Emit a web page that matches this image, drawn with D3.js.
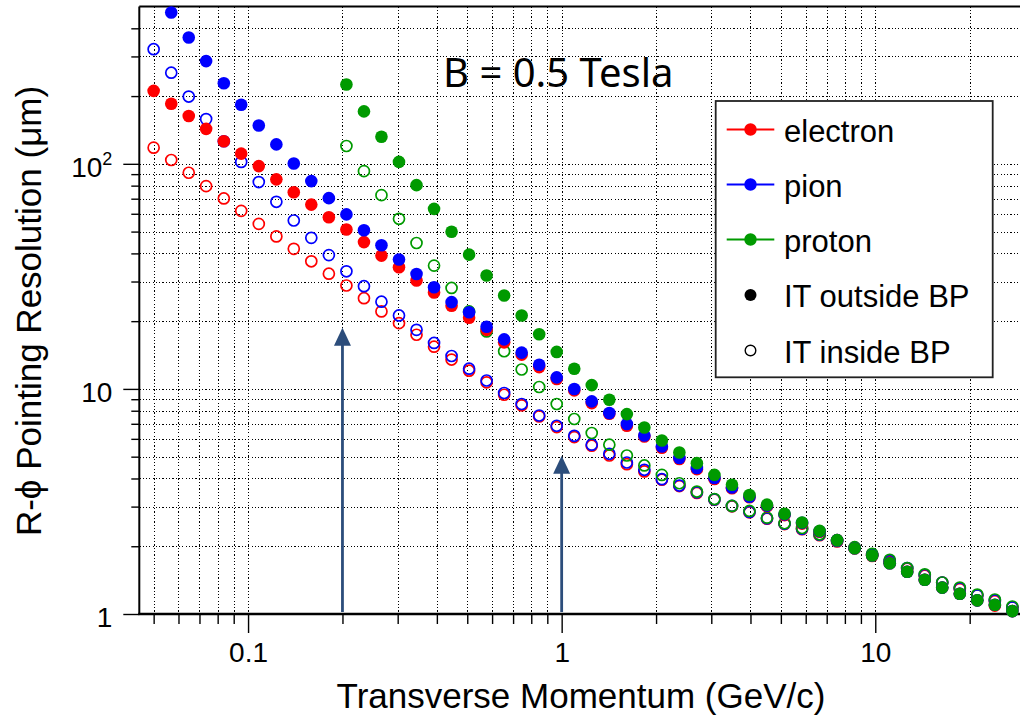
<!DOCTYPE html>
<html>
<head>
<meta charset="utf-8">
<script src="https://cdn.jsdelivr.net/npm/d3@7"></script>
<style>
  body { margin: 0; background: #fff; }
  svg { display: block; font-family: "Liberation Sans", Arial, Helvetica, sans-serif; }
</style>
</head>
<body>
<svg id="chart" width="1020" height="718"></svg>
<script>
// Transverse momentum sample points (GeV/c)
const pT = [0.0500, 0.0569, 0.0647, 0.0735, 0.0837, 0.0951, 0.1082, 0.1231, 0.1399, 0.1591,
            0.1810, 0.2059, 0.2342, 0.2663, 0.3029, 0.3445, 0.3918, 0.4456, 0.5068, 0.5763,
            0.6555, 0.7455, 0.8479, 0.9643, 1.097, 1.247, 1.419, 1.614, 1.835, 2.087,
            2.373, 2.699, 3.070, 3.492, 3.971, 4.516, 5.137, 5.842, 6.644, 7.556,
            8.594, 9.774, 11.12, 12.64, 14.38, 16.35, 18.60, 21.15, 24.06, 27.36];

// R-phi pointing resolution (um), inner tracker outside the beam pipe
const electronOut = [211, 185, 163, 143, 126, 111, 97.7, 85.3, 74.8, 65.9,
                     57.9, 51.1, 44.9, 39.1, 34.7, 30.3, 26.8, 23.4, 20.7, 18.3,
                     16.1, 14.2, 12.5, 11.07, 9.85, 8.65, 7.76, 6.86, 6.15, 5.48,
                     4.88, 4.40, 3.98, 3.62, 3.30, 3.01, 2.75, 2.52, 2.32, 2.13,
                     1.96, 1.81, 1.68, 1.54, 1.42, 1.31, 1.23, 1.15, 1.09, 1.03];
const pionOut = [null, 470, 364, 286, 228, 183, 148, 122, 100.4, 83.8,
                 70.4, 59.6, 50.7, 43.5, 37.6, 32.4, 28.3, 24.3, 21.9, 18.9,
                 16.6, 14.5, 12.8, 11.25, 9.99, 8.80, 7.81, 6.98, 6.21, 5.55,
                 4.93, 4.45, 4.02, 3.65, 3.32, 3.03, 2.77, 2.54, 2.33, 2.13,
                 1.96, 1.82, 1.68, 1.54, 1.42, 1.31, 1.23, 1.15, 1.10, 1.03];
const protonOut = [null, null, null, null, null, null, null, null, null, null,
                   null, 225, 171, 132, 102, 80.4, 63.1, 49.9, 39.5, 31.9,
                   26.0, 21.2, 17.5, 14.6, 12.3, 10.4, 8.95, 7.73, 6.74, 5.90,
                   5.22, 4.68, 4.15, 3.75, 3.38, 3.06, 2.79, 2.55, 2.34, 2.13,
                   1.96, 1.82, 1.68, 1.54, 1.42, 1.31, 1.23, 1.15, 1.10, 1.03];

// R-phi pointing resolution (um), inner tracker inside the beam pipe
const electronIn = [118, 104, 91.3, 79.6, 70.2, 61.8, 54.1, 47.6, 41.9, 36.9,
                    32.5, 28.8, 25.3, 22.1, 19.6, 17.4, 15.4, 13.5, 12.05, 10.7,
                    9.42, 8.45, 7.55, 6.77, 6.11, 5.59, 5.06, 4.63, 4.30, 3.95,
                    3.70, 3.45, 3.22, 3.01, 2.83, 2.65, 2.51, 2.38, 2.24, 2.10,
                    1.96, 1.83, 1.71, 1.59, 1.48, 1.38, 1.29, 1.21, 1.14, 1.07];
const pionIn = [323, 254, 199, 158, 126, 102, 83.0, 67.8, 56.0, 46.9,
                39.3, 33.3, 28.6, 24.4, 21.2, 18.3, 16.0, 14.0, 12.3, 10.9,
                9.59, 8.57, 7.62, 6.86, 6.19, 5.65, 5.15, 4.71, 4.37, 3.97,
                3.72, 3.47, 3.23, 3.02, 2.84, 2.66, 2.52, 2.39, 2.25, 2.11,
                1.97, 1.84, 1.72, 1.60, 1.49, 1.38, 1.30, 1.21, 1.15, 1.07];
const protonIn = [null, null, null, null, null, null, null, null, null, null,
                  null, 120, 92.8, 72.6, 57.0, 44.5, 35.3, 28.1, 22.1, 18.0,
                  14.7, 12.2, 10.2, 8.57, 7.35, 6.37, 5.65, 5.06, 4.57, 4.15,
                  3.81, 3.50, 3.24, 3.02, 2.87, 2.68, 2.53, 2.41, 2.26, 2.12,
                  1.98, 1.85, 1.74, 1.60, 1.50, 1.38, 1.31, 1.22, 1.16, 1.08];

const particles = ["electron", "pion", "proton"];
const particleColors = ["#ff0000", "#0000ff", "#009a00"];
const xMajorTicks = [0.1, 1, 10];
const xTickLabels = ["0.1", "1", "10"];
const yMajorTicks = [1, 10, 100];
const yTickLabels = [["1", ""], ["10", ""], ["10", "2"]];
// momentum thresholds marked with arrows: [pT, lower end, upper end]
const markerArrows = [[0.2, 1.02, 18.7], [1, 1.02, 5.05]];

const FONT = "'Liberation Sans', Arial, Helvetica, sans-serif";
const svg = d3.select("#chart");
const plotLeft = 139.3, plotRight = 1024.9, plotTop = 6.5, plotBottom = 614;
const x = d3.scaleLog().domain([0.045, 30]).range([plotLeft, plotRight]);
const y = d3.scaleLog().domain([1, 500]).range([plotBottom, plotTop]);

svg.append("rect").attr("width", 1020).attr("height", 718).attr("fill", "#fff");

// dotted grid
const grid = svg.append("g").attr("stroke", "#000").attr("stroke-width", 1.1)
  .attr("stroke-dasharray", "1.2,2.1").attr("fill", "none").attr("shape-rendering", "crispEdges");
grid.selectAll("line.gx").data(x.ticks().filter(v => v < 29)).join("line")
  .attr("x1", d => Math.round(x(d)) + 0.5).attr("x2", d => Math.round(x(d)) + 0.5)
  .attr("y1", plotTop).attr("y2", plotBottom);
grid.selectAll("line.gy").data(y.ticks().filter(v => v > 1 && v < 500)).join("line")
  .attr("y1", d => Math.round(y(d)) + 0.5).attr("y2", d => Math.round(y(d)) + 0.5)
  .attr("x1", plotLeft).attr("x2", 1020);

// axes
const xMinor = svg.append("g").attr("transform", `translate(0,${plotBottom})`)
  .call(d3.axisBottom(x).tickValues(x.ticks().filter(v => v < 29 && !xMajorTicks.includes(v)))
    .tickSize(10).tickFormat(""));
const xMajor = svg.append("g").attr("transform", `translate(0,${plotBottom})`)
  .call(d3.axisBottom(x).tickValues(xMajorTicks).tickSize(19).tickPadding(9)
    .tickFormat((d, i) => xTickLabels[i]));
const yMinor = svg.append("g").attr("transform", `translate(${plotLeft},0)`)
  .call(d3.axisLeft(y).tickValues(y.ticks().filter(v => !yMajorTicks.includes(v) && v < 500))
    .tickSize(8).tickFormat(""));
const yMajor = svg.append("g").attr("transform", `translate(${plotLeft},0)`)
  .call(d3.axisLeft(y).tickValues(yMajorTicks).tickSize(16).tickPadding(11).tickFormat(""));

[xMinor, xMajor, yMinor, yMajor].forEach(g => {
  g.attr("font-family", FONT);
  g.select(".domain").remove();
  g.selectAll(".tick line").attr("stroke", "#000").attr("stroke-width", 1.4);
});
xMajor.selectAll(".tick text").attr("font-size", 28).attr("fill", "#000");

yMajor.selectAll(".tick").each(function (d, i) {
  const t = d3.select(this).append("text")
    .attr("x", -27).attr("dy", "0.45em").attr("text-anchor", "end")
    .attr("font-size", 28).attr("fill", "#000");
  t.append("tspan").text(yTickLabels[i][0]);
  if (yTickLabels[i][1]) t.append("tspan").attr("font-size", 18).attr("dy", -12).text(yTickLabels[i][1]);
});

// frame lines
svg.append("line").attr("x1", plotLeft).attr("x2", 1020).attr("y1", plotTop).attr("y2", plotTop)
  .attr("stroke", "#000").attr("stroke-width", 1.8);
svg.append("line").attr("x1", plotLeft).attr("x2", plotLeft).attr("y1", plotTop).attr("y2", plotBottom + 1)
  .attr("stroke", "#000").attr("stroke-width", 2);
svg.append("line").attr("x1", plotLeft - 1).attr("x2", 1020).attr("y1", plotBottom).attr("y2", plotBottom)
  .attr("stroke", "#000").attr("stroke-width", 2.4);

// arrows
const arrowColor = "#2c4d7b";
const arrows = svg.append("g");
markerArrows.forEach(([p, lo, hi]) => {
  const ax = x(p), yTip = y(hi), yBase = y(lo);
  arrows.append("line").attr("x1", ax).attr("x2", ax).attr("y1", yBase).attr("y2", yTip + 14)
    .attr("stroke", arrowColor).attr("stroke-width", 2.8);
  arrows.append("path")
    .attr("d", `M${ax},${yTip} L${ax + 8.5},${yTip + 18} L${ax - 8.5},${yTip + 18} Z`)
    .attr("fill", arrowColor);
});

// data markers: open (inside BP) first, then filled (outside BP)
const toPoints = arr => pT.map((p, i) => [p, arr[i]]).filter(d => d[1] != null && d[1] <= 500);
const openSets = [electronIn, pionIn, protonIn];
const filledSets = [electronOut, pionOut, protonOut];
const marks = svg.append("g");
openSets.forEach((arr, k) => {
  marks.append("g").selectAll("circle").data(toPoints(arr)).join("circle")
    .attr("cx", d => x(d[0])).attr("cy", d => y(d[1])).attr("r", 5.5)
    .attr("fill", "none").attr("stroke", particleColors[k]).attr("stroke-width", 1.7);
});
filledSets.forEach((arr, k) => {
  marks.append("g").selectAll("circle").data(toPoints(arr)).join("circle")
    .attr("cx", d => x(d[0])).attr("cy", d => y(d[1])).attr("r", 6.3)
    .attr("fill", particleColors[k]);
});

// annotation
svg.append("text").attr("x", 443).attr("y", 87).attr("font-size", 40)
  .attr("font-family", "'Noto Sans', 'Open Sans', sans-serif").attr("fill", "#000")
  .text("B = 0.5 Tesla");

// legend
const legend = svg.append("g").attr("font-family", FONT);
legend.append("rect").attr("x", 715.7).attr("y", 101).attr("width", 277).attr("height", 276.3)
  .attr("fill", "#fff").attr("stroke", "#222").attr("stroke-width", 1.8);
const rowY = [129.5, 184.5, 239.5, 295, 350.5];
particles.forEach((name, k) => {
  legend.append("line").attr("x1", 726.7).attr("x2", 774.3).attr("y1", rowY[k]).attr("y2", rowY[k])
    .attr("stroke", particleColors[k]).attr("stroke-width", 2.2);
  legend.append("circle").attr("cx", 750.5).attr("cy", rowY[k]).attr("r", 6.2).attr("fill", particleColors[k]);
  legend.append("text").attr("x", 784).attr("y", rowY[k] + 12).attr("font-size", 31).attr("fill", "#000").text(name);
});
legend.append("circle").attr("cx", 750.5).attr("cy", rowY[3]).attr("r", 6).attr("fill", "#000");
legend.append("text").attr("x", 784).attr("y", rowY[3] + 12).attr("font-size", 31).attr("fill", "#000").text("IT outside BP");
legend.append("circle").attr("cx", 750.5).attr("cy", rowY[4]).attr("r", 5.3).attr("fill", "none")
  .attr("stroke", "#000").attr("stroke-width", 1.4);
legend.append("text").attr("x", 784).attr("y", rowY[4] + 12).attr("font-size", 31).attr("fill", "#000").text("IT inside BP");

// axis titles
svg.append("text").attr("x", 581).attr("y", 708).attr("text-anchor", "middle").attr("font-family", FONT)
  .attr("font-size", 35).attr("fill", "#000").text("Transverse Momentum (GeV/c)");
svg.append("text").attr("transform", "translate(41,311) rotate(-90)").attr("text-anchor", "middle")
  .attr("font-family", FONT).attr("font-size", 35).attr("fill", "#000")
  .text("R-\u03d5 Pointing Resolution (\u03bcm)");
</script>
</body>
</html>
